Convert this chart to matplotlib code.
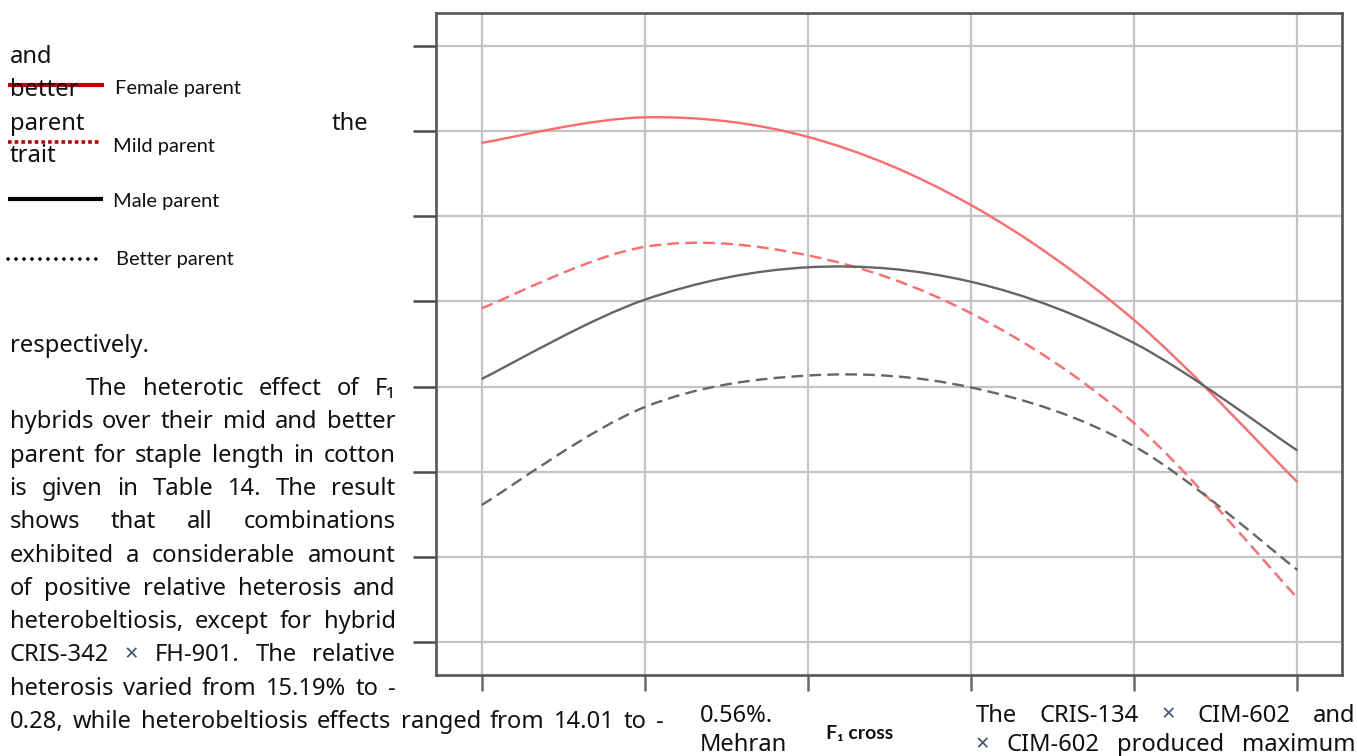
import numpy as np
import matplotlib
matplotlib.use("Agg")
import matplotlib.pyplot as plt
from matplotlib.path import Path
from matplotlib.patches import PathPatch

# F1 crosses along the x axis (no labels shown in the figure)
crosses = [1, 2, 3, 4, 5, 6]
# values read in grid units (gridlines at 1..8, axis has no labels)
female = [6.86, 7.16, 6.93, 6.13, 4.78, 2.88]
mid = [4.92, 5.64, 5.54, 4.86, 3.57, 1.52]
male = [4.09, 5.02, 5.40, 5.23, 4.51, 3.25]
better = [2.61, 3.76, 4.13, 3.99, 3.30, 1.85]
grid_y = [1, 2, 3, 4, 5, 6, 7, 8]

legend_names = ["Female parent", "Mild parent", "Male parent", "Better parent"]

BODY = ["Noto Sans", "DejaVu Sans"]
LEG = ["Lato", "Noto Sans", "DejaVu Sans"]
XCOL = "#44546A"
FS = 17.1


def smooth_path(xs, ys):
    # Catmull-Rom style smoothing drawn as cubic Bezier segments
    p = np.column_stack([xs, ys]).astype(float)
    pts = np.vstack([p[0], p, p[-1]])
    verts = [tuple(p[0])]
    codes = [Path.MOVETO]
    for i in range(1, len(pts) - 2):
        c1 = pts[i] + (pts[i + 1] - pts[i - 1]) / 6
        c2 = pts[i + 1] - (pts[i + 2] - pts[i]) / 6
        verts += [tuple(c1), tuple(c2), tuple(pts[i + 1])]
        codes += [Path.CURVE4] * 3
    return Path(verts, codes)


fig = plt.figure(figsize=(13.57, 7.56), dpi=100)
W, H = 1357, 756
ax = fig.add_axes([436 / W, 1 - 675 / H, (1341.7 - 436) / W, (675 - 13) / H])
ax.set_xlim(0.72, 6.272)
ax.set_ylim(0.616, 8.384)
ax.set_xticks(crosses)
ax.set_yticks(grid_y)
ax.grid(True, color="#C4C4C4", lw=1.6)
ax.set_axisbelow(True)
ax.tick_params(labelleft=False, labelbottom=False)
ax.tick_params(axis="y", length=16.5, width=1.8, color="#4A4A4A")
ax.tick_params(axis="x", length=11.5, width=1.8, color="#6A6A6A")
for s in ax.spines.values():
    s.set_color("#555555")
    s.set_linewidth(1.9)

red = "#FF6A6A"
gray = "#656565"
styles = [(female, red, "-"), (mid, red, (0, (5, 2.6))),
          (male, gray, "-"), (better, gray, (0, (5, 2.6)))]
for vals, c, ls in styles:
    ax.add_patch(PathPatch(smooth_path(crosses, vals), fill=False,
                           edgecolor=c, lw=1.7, linestyle=ls))

# overlay in pixel coordinates for the page text and hand-drawn legend
ov = fig.add_axes([0, 0, 1, 1], zorder=5)
ov.set_xlim(0, W)
ov.set_ylim(H, 0)
ov.axis("off")
ov.patch.set_alpha(0)

renderer = fig.canvas.get_renderer()


def line(words, x0, y, size=FS, x1=None, family=BODY, weight="normal"):
    ts = []
    for w in words:
        col = XCOL if w == "×" else "#111111"
        ts.append(ov.text(x0, y, w, fontsize=size, family=family, color=col,
                          weight=weight, va="baseline", ha="left"))
    widths = [t.get_window_extent(renderer).width for t in ts]
    if x1 is None or len(words) == 1:
        gap = 0.26 * size * 100 / 72
    else:
        gap = (x1 - x0 - sum(widths)) / (len(words) - 1)
    x = x0
    for t, w in zip(ts, widths):
        t.set_x(x)
        x += w + gap


L, R = 9.5, 395.5
line(["and"], L, 63)
line(["better"], L, 96.5)
line(["parent"], L, 129.5)
ov.text(368, 129.5, "the", fontsize=FS, family=BODY, color="#111111",
        va="baseline", ha="right")
line(["trait"], L, 162.5)
line(["respectively."], L, 351.7)

para = [
    ("The heterotic effect of F₁", 86, R),
    ("hybrids over their mid and better", L, R),
    ("parent for staple length in cotton", L, R),
    ("is given in Table 14. The result", L, R),
    ("shows that all combinations", L, R),
    ("exhibited a considerable amount", L, R),
    ("of positive relative heterosis and", L, R),
    ("heterobeltiosis, except for hybrid", L, R),
    ("CRIS-342 × FH-901. The relative", L, R),
    ("heterosis varied from 15.19% to -", L, R),
    ("0.28, while heterobeltiosis effects ranged from 14.01 to -", L, 664),
]
for i, (txt, a, b) in enumerate(para):
    line(txt.split(), a, 395 + 33.3 * i, x1=b)

line(["0.56%."], 700, 721.5)
line(["Mehran"], 700, 751)
line(["The", "CRIS-134", "×", "CIM-602", "and"], 976, 721.5, x1=1355)
line(["×", "CIM-602", "produced", "maximum"], 975, 751, x1=1355)
ov.text(826, 739.3, "F₁ cross", fontsize=14.0, family=LEG, weight="bold",
        color="#111111", va="baseline", ha="left")

# legend drawn like the page's own key
ov.plot([8, 104], [85, 85], color="#C00000", lw=3.0, solid_capstyle="butt")
ov.plot([8, 101], [141.7, 141.7], color="#C00000", lw=2.6,
        linestyle=(0, (1, 0.85)), dash_capstyle="butt")
ov.plot([8, 103], [199.3, 199.3], color="black", lw=3.0, solid_capstyle="butt")
ov.plot([8, 100], [259.3, 259.3], color="black", lw=2.6,
        linestyle=(0, (0.01, 2.2)), dash_capstyle="round")
for name, (lx, ly) in zip(legend_names, [(115, 94), (113, 151.7),
                                         (113, 206.7), (116, 265)]):
    ov.text(lx, ly, name, fontsize=14.4, family=LEG, color="#111111",
            va="baseline", ha="left")

fig.savefig("out.png", dpi=100)
